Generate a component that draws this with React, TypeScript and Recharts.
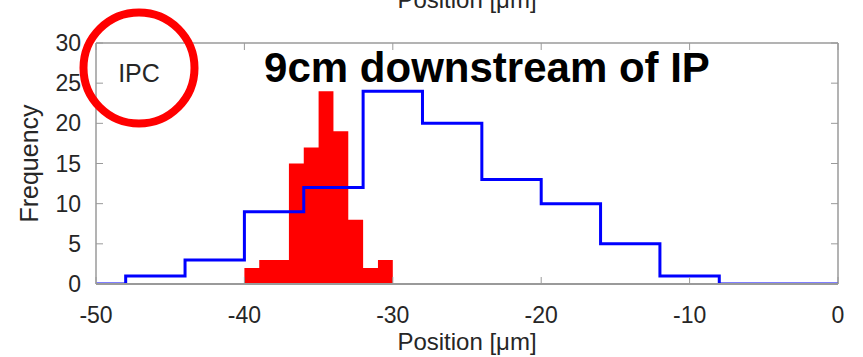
import { ComposedChart, Line, Area, XAxis, YAxis, ReferenceLine } from 'recharts';

// histogram bin edges and counts (stepAfter: last entry closes the step)
const ipcEdges = [-50, -48, -44, -40, -36, -32, -28, -24, -20, -16, -12, -8, 0];
const ipcCounts = [0, 1, 3, 9, 12, 24, 20, 13, 10, 5, 1, 0, 0];

const refEdges = [-40, -39, -38, -37, -36, -35, -34, -33, -32, -31, -30];
const refCounts = [2, 3, 3, 15, 17, 24, 19, 8, 2, 3, 0];

const xTicks = [-50, -40, -30, -20, -10, 0];
const yTicks = [0, 5, 10, 15, 20, 25, 30];

const W = 863;
const H = 357;
const PLOT_TOP = 43;
const PLOT_BOTTOM = 284;
const PLOT_LEFT = 96;
const PLOT_RIGHT = 838;
const PLOT_W = PLOT_RIGHT - PLOT_LEFT;
const PLOT_H = PLOT_BOTTOM - PLOT_TOP;

const FONT = '"Liberation Sans", Arial, Helvetica, sans-serif';
const TXT = '#262626';
const AXIS = '#9a9a9a';

const ipcData = ipcEdges.map((x, i) => ({ x, count: ipcCounts[i] }));
const refData = refEdges.map((x, i) => ({ x, count: refCounts[i] }));

function XTick({ x, y, payload }: any) {
  return (
    <g>
      <line x1={x} x2={x} y1={y} y2={y - 7} stroke={AXIS} strokeWidth={1} />
      <line x1={x} x2={x} y1={y - PLOT_H} y2={y - PLOT_H + 7} stroke={AXIS} strokeWidth={1} />
      <text x={x} y={y + 39} textAnchor="middle" fontSize={23} fontFamily={FONT} fill={TXT}>
        {payload.value}
      </text>
    </g>
  );
}

function YTick({ x, y, payload }: any) {
  return (
    <g>
      <line x1={x} x2={x + 7} y1={y} y2={y} stroke={AXIS} strokeWidth={1} />
      <line x1={x + PLOT_W - 7} x2={x + PLOT_W} y1={y} y2={y} stroke={AXIS} strokeWidth={1} />
      <text x={x - 15} y={y + 8} textAnchor="end" fontSize={23} fontFamily={FONT} fill={TXT}>
        {payload.value}
      </text>
    </g>
  );
}

export default function App() {
  return (
    <div style={{ position: 'absolute', left: 0, top: 0, width: W, height: H, background: '#fff' }}>
      <ComposedChart
        width={W}
        height={H}
        margin={{ top: PLOT_TOP, right: W - PLOT_RIGHT, bottom: 0, left: 0 }}
      >
        <XAxis
          type="number"
          dataKey="x"
          domain={[-50, 0]}
          ticks={xTicks}
          allowDataOverflow
          height={H - PLOT_BOTTOM}
          tickLine={false}
          tickSize={0}
          tickMargin={0}
          tick={<XTick />}
          axisLine={{ stroke: AXIS, strokeWidth: 2 }}
        />
        <YAxis
          type="number"
          domain={[0, 30]}
          ticks={yTicks}
          allowDataOverflow
          width={PLOT_LEFT}
          tickLine={false}
          tickSize={0}
          tickMargin={0}
          tick={<YTick />}
          axisLine={{ stroke: AXIS, strokeWidth: 1.5 }}
        />
        <ReferenceLine y={30} stroke={AXIS} strokeWidth={1.5} />
        <ReferenceLine x={0} stroke={AXIS} strokeWidth={1.5} />
        <Area
          data={refData}
          dataKey="count"
          type="stepAfter"
          fill="#ff0000"
          fillOpacity={1}
          stroke="none"
          isAnimationActive={false}
        />
        <Line
          data={ipcData}
          dataKey="count"
          type="stepAfter"
          stroke="#0000ff"
          strokeWidth={3}
          dot={false}
          activeDot={false}
          isAnimationActive={false}
        />
      </ComposedChart>
      <svg
        width={W}
        height={H}
        style={{ position: 'absolute', left: 0, top: 0, pointerEvents: 'none' }}
      >
        <text x={467} y={8} textAnchor="middle" fontSize={24} fontFamily={FONT} fill={TXT}>
          Position [μm]
        </text>
        <text x={467} y={350} textAnchor="middle" fontSize={24} fontFamily={FONT} fill={TXT}>
          Position [μm]
        </text>
        <text
          x={0}
          y={0}
          transform={`translate(38, ${(PLOT_TOP + PLOT_BOTTOM) / 2}) rotate(-90)`}
          textAnchor="middle"
          fontSize={25}
          fontFamily={FONT}
          fill={TXT}
        >
          Frequency
        </text>
        <text x={487} y={82} textAnchor="middle" fontSize={42} fontWeight="bold" fontFamily={FONT} fill="#000">
          9cm downstream of IP
        </text>
        <text x={139} y={82} textAnchor="middle" fontSize={25} fontFamily={FONT} fill={TXT}>
          IPC
        </text>
        <circle cx={139} cy={68} r={55.5} fill="none" stroke="#ff0000" strokeWidth={8} />
      </svg>
    </div>
  );
}
